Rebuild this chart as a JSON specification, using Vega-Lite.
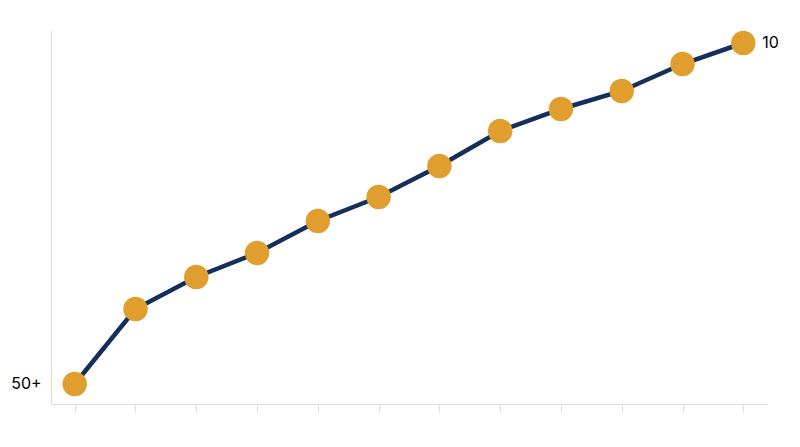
{
  "$schema": "https://vega.github.io/schema/vega-lite/v6.json",
  "width": 716,
  "height": 374,
  "autosize": "none",
  "padding": {"left": 51, "top": 30, "right": 33, "bottom": 43},
  "background": "white",
  "config": {"view": {"stroke": null}, "font": "Inter"},
  "data": {
    "values": [
      {"step": 1, "value": 20, "label": "50+", "side": "left"},
      {"step": 2, "value": 95, "label": "", "side": ""},
      {"step": 3, "value": 127, "label": "", "side": ""},
      {"step": 4, "value": 151, "label": "", "side": ""},
      {"step": 5, "value": 183, "label": "", "side": ""},
      {"step": 6, "value": 207, "label": "", "side": ""},
      {"step": 7, "value": 238, "label": "", "side": ""},
      {"step": 8, "value": 273, "label": "", "side": ""},
      {"step": 9, "value": 295, "label": "", "side": ""},
      {"step": 10, "value": 313, "label": "", "side": ""},
      {"step": 11, "value": 340, "label": "", "side": ""},
      {"step": 12, "value": 361, "label": "10", "side": "right"}
    ]
  },
  "encoding": {
    "x": {
      "field": "step",
      "type": "ordinal",
      "scale": {"type": "point", "padding": 0.39},
      "axis": {
        "title": null,
        "labels": false,
        "domainColor": "#dddddd",
        "tickColor": "#dddddd",
        "tickSize": 8,
        "grid": false
      }
    },
    "y": {
      "field": "value",
      "type": "quantitative",
      "scale": {"domain": [0, 374], "nice": false, "zero": true},
      "axis": {
        "title": null,
        "labels": false,
        "ticks": false,
        "grid": false,
        "domainColor": "#dddddd"
      }
    }
  },
  "layer": [
    {
      "mark": {"type": "line", "color": "#14305a", "strokeWidth": 4.5}
    },
    {
      "mark": {"type": "circle", "color": "#e09e2e", "opacity": 1, "size": 600}
    },
    {
      "transform": [{"filter": "datum.side == 'left'"}],
      "mark": {"type": "text", "align": "right", "baseline": "middle", "dx": -33, "fontSize": 16, "color": "#000000"},
      "encoding": {"text": {"field": "label"}}
    },
    {
      "transform": [{"filter": "datum.side == 'right'"}],
      "mark": {"type": "text", "align": "left", "baseline": "middle", "dx": 19, "fontSize": 16, "color": "#000000"},
      "encoding": {"text": {"field": "label"}}
    }
  ]
}
